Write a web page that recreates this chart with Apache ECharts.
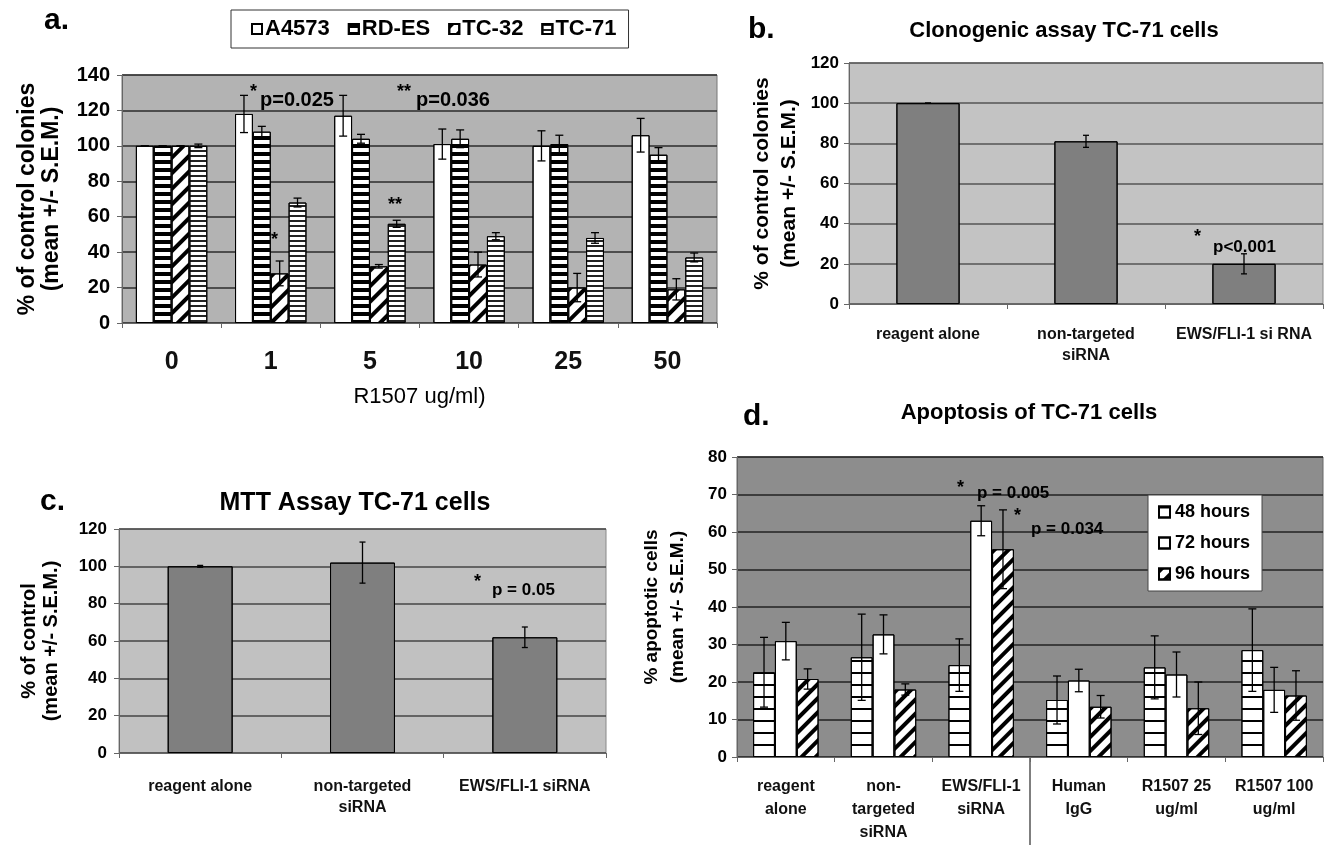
<!DOCTYPE html>
<html>
<head>
<meta charset="utf-8">
<script src="https://cdn.jsdelivr.net/npm/echarts@6/dist/echarts.min.js"></script>
<style>
  html, body { margin: 0; padding: 0; background: #fff; }
  #main { width: 1331px; height: 845px; }
</style>
</head>
<body>
<div id="main"></div>
<script>
// a. colonies vs R1507 dose
var doseLabels = ["0", "1", "5", "10", "25", "50"];
var cellLines = ["A4573", "RD-ES", "TC-32", "TC-71"];
var a4573 = [100, 118, 117, 101, 100, 106];
var a4573Err = [0, 10.5, 11.5, 8.5, 8.5, 9.5];
var rdes = [100, 108, 104, 104, 101, 95];
var rdesErr = [0, 3, 2.5, 5, 5, 4];
var tc32 = [100, 28, 32, 33, 20, 19];
var tc32Err = [0, 7, 1, 7, 8, 6];
var tc71 = [100, 68, 56, 49, 48, 37];
var tc71Err = [1, 2.5, 2, 2, 3, 2.5];

// b. clonogenic assay
var clonoCats = ["reagent alone", "non-targeted\nsiRNA", "EWS/FLI-1 si RNA"];
var clonoVals = [100, 81, 20];
var clonoErr = [0, 3, 5];

// c. MTT assay
var mttCats = ["reagent alone", "non-targeted\nsiRNA", "EWS/FLI-1 siRNA"];
var mttVals = [100, 102, 62];
var mttErr = [0.5, 11, 5.5];

// d. apoptosis
var apoCats = ["reagent\nalone", "non-\ntargeted\nsiRNA", "EWS/FLI-1\nsiRNA", "Human\nIgG", "R1507 25\nug/ml", "R1507 100\nug/ml"];
var timePoints = ["48 hours", "72 hours", "96 hours"];
var h48 = [22.6, 26.6, 24.5, 15.2, 23.9, 28.5];
var h48Err = [9.3, 11.5, 7, 6.4, 8.4, 11];
var h72 = [30.9, 32.7, 63, 20.4, 22, 17.9];
var h72Err = [5, 5.2, 4, 3, 6, 6];
var h96 = [20.8, 18, 55.4, 13.4, 13, 16.4];
var h96Err = [2.7, 1.5, 10.5, 3, 7, 6.6];

var F = "'Liberation Sans', Arial, sans-serif";
var FN = "'Liberation Sans Narrow', 'Liberation Sans', Arial, sans-serif";

var noDecal = { color: 'rgba(0,0,0,0)' };
function hStripes(on, off, color) {
  return { symbol: 'rect', symbolSize: 1, color: color || '#000', dashArrayX: [1, 0], dashArrayY: [on, off], rotation: 0 };
}
function dStripes(on, off) {
  return { symbol: 'rect', symbolSize: 1, color: '#000', dashArrayX: [1, 0], dashArrayY: [on, off], rotation: -Math.PI / 4 };
}

function bar(g, name, vals, color, decal, gap, width) {
  var s = {
    type: 'bar', name: name, xAxisIndex: g, yAxisIndex: g, data: vals,
    barGap: '0%', barCategoryGap: gap,
    itemStyle: { color: color, borderColor: '#000', borderWidth: 1, decal: decal }
  };
  if (width) s.barWidth = width;
  return s;
}

// error bars drawn on top of grouped bars
function errBars(g, vals, errs, idx, n, groupFrac, capW) {
  return {
    type: 'custom', xAxisIndex: g, yAxisIndex: g, z: 5, silent: true,
    data: vals.map(function (v, i) { return [i, v - errs[i], v + errs[i]]; }),
    renderItem: function (params, api) {
      var band = api.size([1, 0])[0];
      var groupW = band * groupFrac;
      var bw = groupW / n;
      var x = api.coord([api.value(0), 0])[0] - groupW / 2 + bw * (idx + 0.5);
      var lo = api.coord([api.value(0), api.value(1)])[1];
      var hi = api.coord([api.value(0), api.value(2)])[1];
      var st = { stroke: '#000', lineWidth: 1.3 };
      return {
        type: 'group', children: [
          { type: 'line', shape: { x1: x, y1: hi, x2: x, y2: lo }, style: st },
          { type: 'line', shape: { x1: x - capW, y1: hi, x2: x + capW, y2: hi }, style: st },
          { type: 'line', shape: { x1: x - capW, y1: lo, x2: x + capW, y2: lo }, style: st }
        ]
      };
    }
  };
}

function yAx(g, max, interval, opts) {
  return {
    type: 'value', gridIndex: g, min: 0, max: max, interval: interval,
    name: opts.name, nameLocation: 'middle', nameRotate: 90, nameGap: opts.nameGap,
    nameTextStyle: { fontFamily: F, fontWeight: 'bold', fontSize: opts.nameSize, lineHeight: opts.nameLH, color: '#000', align: 'center' },
    axisLine: { show: true, lineStyle: { color: '#666', width: 1 } },
    axisTick: { show: true, length: 5, lineStyle: { color: '#666' } },
    axisLabel: { fontFamily: opts.labelFont, fontWeight: 'bold', fontSize: opts.labelSize, color: '#000', margin: opts.labelMargin },
    splitLine: { show: true, lineStyle: { color: opts.gridColor, width: 1.5 } }
  };
}

function xAx(g, cats, opts) {
  return {
    type: 'category', gridIndex: g, data: cats,
    name: opts.name || '', nameLocation: 'middle', nameGap: opts.nameGap || 0,
    nameTextStyle: { fontFamily: FN, fontSize: 22, color: '#000' },
    axisLine: { show: true, lineStyle: { color: '#666', width: 1.2 } },
    axisTick: { show: true, length: 5, interval: 0, lineStyle: { color: '#666' } },
    axisLabel: { interval: 0, fontFamily: opts.labelFont, fontWeight: 'bold', fontSize: opts.labelSize, lineHeight: opts.lineHeight, color: '#111', margin: opts.margin }
  };
}

function txt(x, y, s, size, font, align) {
  return {
    type: 'text', x: x, y: y, z: 100,
    style: { text: s, font: 'bold ' + size + 'px ' + (font || F), fill: '#000', align: align || 'left', verticalAlign: 'middle' }
  };
}

var chart = echarts.init(document.getElementById('main'));

var option = {
  animation: false,
  aria: { enabled: true, decal: { show: true } },
  grid: [
    { left: 122, top: 75, width: 595, height: 248, show: true, backgroundColor: '#b3b3b3', borderColor: '#777', borderWidth: 1, outerBoundsMode: 'none' },
    { left: 849, top: 63, width: 474, height: 241, show: true, backgroundColor: '#c3c3c3', borderColor: '#888', borderWidth: 1, outerBoundsMode: 'none' },
    { left: 119, top: 529, width: 487, height: 224, show: true, backgroundColor: '#c1c1c1', borderColor: '#888', borderWidth: 1, outerBoundsMode: 'none' },
    { left: 737, top: 457, width: 586, height: 300, show: true, backgroundColor: '#8d8d8d', borderColor: '#666', borderWidth: 1, outerBoundsMode: 'none' }
  ],
  legend: [
    {
      data: cellLines, left: 231, top: 10, orient: 'horizontal', selectedMode: false,
      borderColor: '#333', borderWidth: 1, padding: [8, 12, 8, 20], itemGap: 18,
      itemWidth: 10, itemHeight: 10, icon: 'rect',
      textStyle: { fontFamily: FN, fontWeight: 'bold', fontSize: 22, color: '#000', padding: [0, 0, 0, -2] }
    },
    {
      data: timePoints, left: 1148, top: 495, orient: 'vertical', selectedMode: false,
      backgroundColor: '#fff', borderColor: '#444', borderWidth: 1, padding: [8, 12, 8, 10], itemGap: 13,
      itemWidth: 11, itemHeight: 11, icon: 'rect',
      textStyle: { fontFamily: F, fontWeight: 'bold', fontSize: 18, color: '#000' }
    }
  ],
  xAxis: [
    xAx(0, doseLabels, { labelFont: FN, labelSize: 25, lineHeight: 26, margin: 26, name: 'R1507 ug/ml)', nameGap: 63 }),
    xAx(1, clonoCats, { labelFont: F, labelSize: 16, lineHeight: 21, margin: 20 }),
    xAx(2, mttCats, { labelFont: F, labelSize: 16, lineHeight: 21, margin: 23 }),
    xAx(3, apoCats, { labelFont: F, labelSize: 16, lineHeight: 23, margin: 18 })
  ],
  yAxis: [
    yAx(0, 140, 20, { name: '% of control colonies\n(mean +/- S.E.M.)', nameGap: 58, nameSize: 23, nameLH: 24, labelFont: FN, labelSize: 20, labelMargin: 12, gridColor: '#2b2b2b' }),
    yAx(1, 120, 20, { name: '% of control colonies\n(mean +/- S.E.M.)', nameGap: 46, nameSize: 21, nameLH: 27, labelFont: F, labelSize: 17, labelMargin: 10, gridColor: '#555' }),
    yAx(2, 120, 20, { name: '% of control\n(mean +/- S.E.M.)', nameGap: 57, nameSize: 20, nameLH: 22, labelFont: F, labelSize: 17, labelMargin: 12, gridColor: '#444' }),
    yAx(3, 80, 10, { name: '% apoptotic cells\n(mean +/- S.E.M.)', nameGap: 46, nameSize: 19, nameLH: 26, labelFont: F, labelSize: 17, labelMargin: 10, gridColor: '#222' })
  ],
  series: [
    bar(0, 'A4573', a4573, '#fff', noDecal, '28%'),
    bar(0, 'RD-ES', rdes, '#fff', hStripes(4, 4), '28%'),
    bar(0, 'TC-32', tc32, '#fff', dStripes(3.5, 6.5), '28%'),
    bar(0, 'TC-71', tc71, '#fff', hStripes(1.4, 2.4, '#222'), '28%'),
    errBars(0, a4573, a4573Err, 0, 4, 0.72, 4),
    errBars(0, rdes, rdesErr, 1, 4, 0.72, 4),
    errBars(0, tc32, tc32Err, 2, 4, 0.72, 4),
    errBars(0, tc71, tc71Err, 3, 4, 0.72, 4),

    bar(1, 'clono', clonoVals, '#7f7f7f', noDecal, '60%', '40%'),
    errBars(1, clonoVals, clonoErr, 0, 1, 0.4, 3),

    bar(2, 'mtt', mttVals, '#7f7f7f', noDecal, '60%', '40%'),
    errBars(2, mttVals, mttErr, 0, 1, 0.4, 3),

    bar(3, '48 hours', h48, '#fff', hStripes(1.5, 9.5), '33%'),
    bar(3, '72 hours', h72, '#fff', noDecal, '33%'),
    bar(3, '96 hours', h96, '#fff', dStripes(3.5, 6), '33%'),
    errBars(3, h48, h48Err, 0, 3, 0.67, 4),
    errBars(3, h72, h72Err, 1, 3, 0.67, 4),
    errBars(3, h96, h96Err, 2, 3, 0.67, 4)
  ]
};

chart.setOption(option);

// separator under panel d between siRNA groups and antibody groups
var xa = chart.convertToPixel({ xAxisIndex: 3 }, 2);
var xb = chart.convertToPixel({ xAxisIndex: 3 }, 3);
var y0 = chart.convertToPixel({ yAxisIndex: 3 }, 0);
var sepX = (xa + xb) / 2;

chart.setOption({
  graphic: [
    { type: 'line', shape: { x1: sepX, y1: y0, x2: sepX, y2: 845 }, style: { stroke: '#555', lineWidth: 1.5 } },
    txt(44, 21, 'a.', 30),
    txt(748, 30, 'b.', 30),
    txt(40, 502, 'c.', 30),
    txt(743, 417, 'd.', 30),
    txt(1064, 31, 'Clonogenic assay TC-71 cells', 22, F, 'center'),
    txt(355, 503, 'MTT Assay TC-71 cells', 25, FN, 'center'),
    txt(1029, 413, 'Apoptosis of TC-71 cells', 22, F, 'center'),
    // panel a significance marks
    txt(250, 92, '*', 18, FN),
    txt(260, 100, 'p=0.025', 20, FN),
    txt(397, 92, '**', 18, FN),
    txt(416, 100, 'p=0.036', 20, FN),
    txt(271, 240, '*', 18, FN),
    txt(388, 205, '**', 18, FN),
    // panel b
    txt(1194, 237, '*', 18),
    txt(1213, 247, 'p<0.001', 17),
    // panel c
    txt(474, 582, '*', 18),
    txt(492, 590, 'p = 0.05', 17),
    // panel d
    txt(957, 488, '*', 18),
    txt(977, 493, 'p = 0.005', 17),
    txt(1014, 516, '*', 18),
    txt(1031, 529, 'p = 0.034', 17)
  ]
});
</script>
</body>
</html>
